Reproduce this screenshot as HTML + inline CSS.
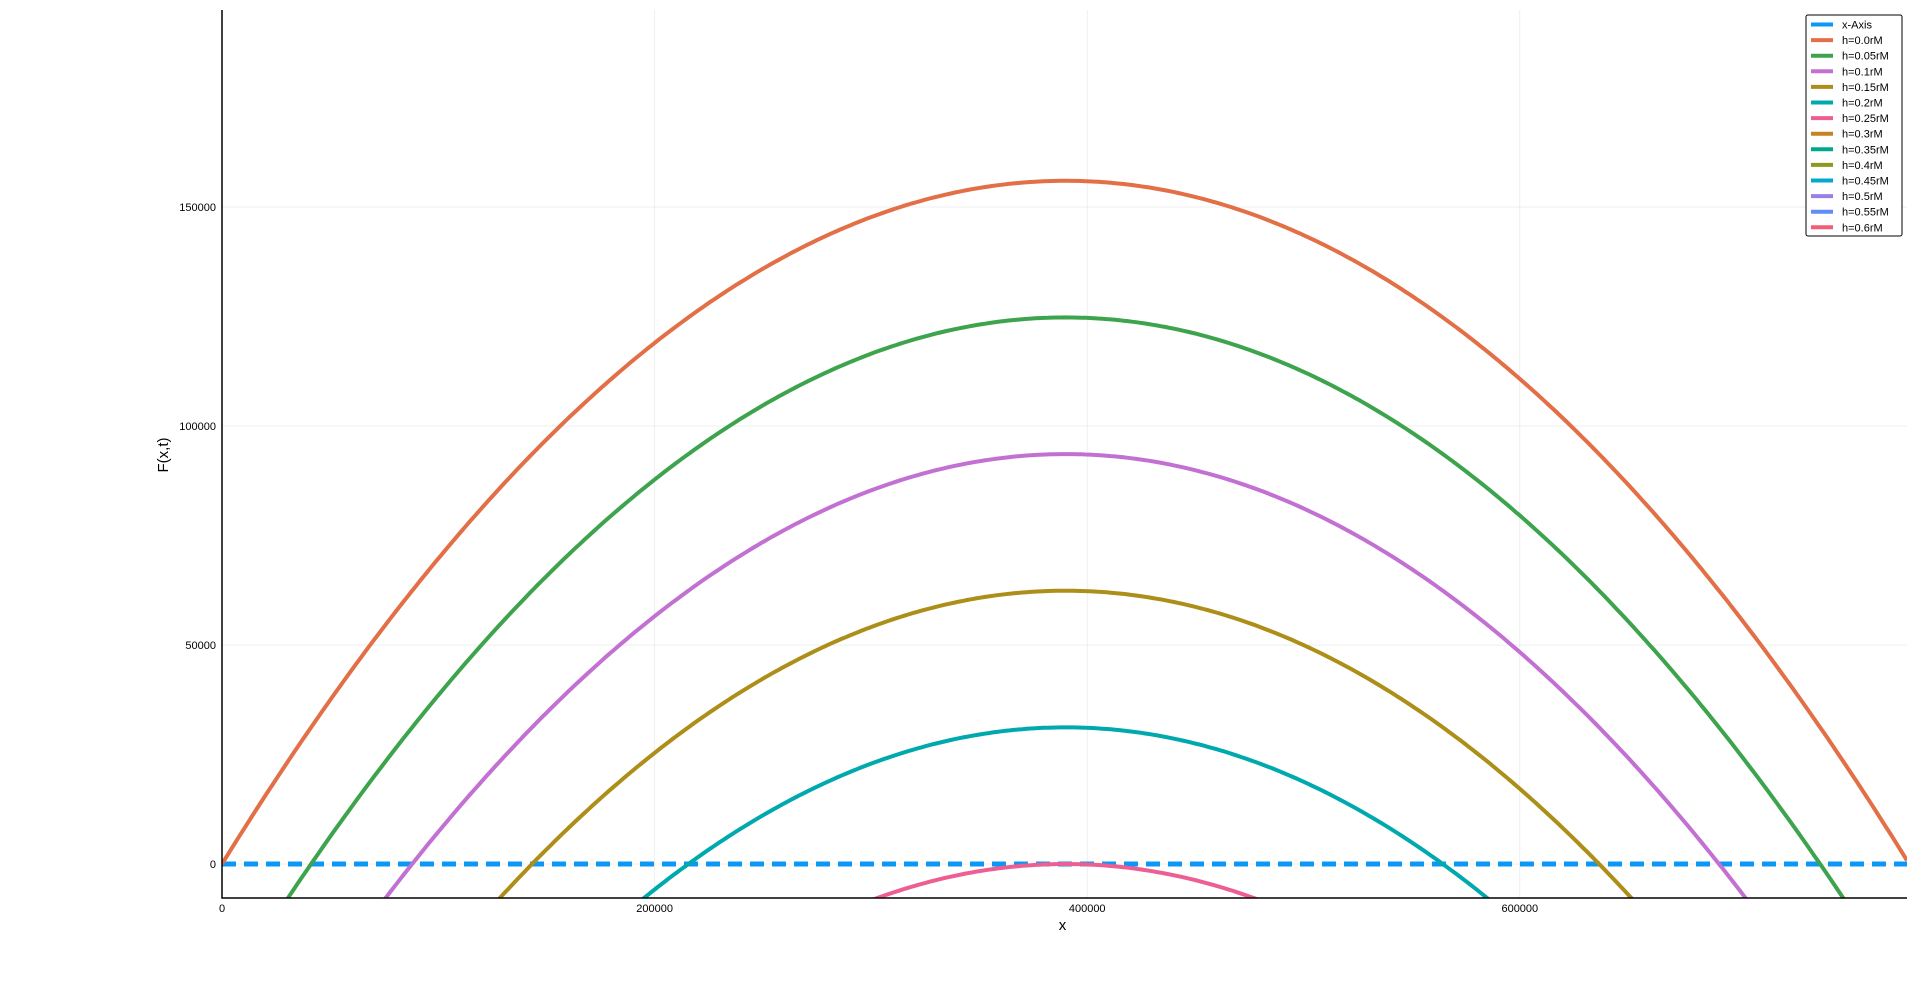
<!DOCTYPE html>
<html><head><meta charset="utf-8"><style>
html,body{margin:0;padding:0;background:#fff;width:1920px;height:990px;overflow:hidden;position:relative}
svg{display:block;position:absolute;left:0;top:0;font-family:"Liberation Sans","DejaVu Sans",sans-serif}
</style></head><body>
<svg id="chart" width="1920" height="990"></svg>
<script>
const seriesNames=["h=0.0rM","h=0.05rM","h=0.1rM","h=0.15rM","h=0.2rM","h=0.25rM","h=0.3rM","h=0.35rM","h=0.4rM","h=0.45rM","h=0.5rM","h=0.55rM","h=0.6rM"];
const seriesColors=["#e26f46","#3da44d","#c271d2","#ac8e18","#00a9ad","#ed5e93","#c68225","#00a98d","#8e971e","#00a9cd","#9b7fe8","#618df6","#f05f73"];
const peakValues=[156000,124800,93600,62400,31200,0,-31200,-62400,-93600,-124800,-156000,-187200,-218400];
const curvature=1.0256e-6;
const peakX=390000;
const xTicks=[0,200000,400000,600000];
const yTicks=[0,50000,100000,150000];
const xMin=0,xMax=779000,yMin=-7760,yMax=195000;
const L=222,R=1907,T=10,B=898;
const sx=v=>L+(v-xMin)/(xMax-xMin)*(R-L);
const sy=v=>B-(v-yMin)/(yMax-yMin)*(B-T);
const svg=document.getElementById('chart');
const NS='http://www.w3.org/2000/svg';
function mk(tag,attrs,parent){const e=document.createElementNS(NS,tag);for(const k in attrs)e.setAttribute(k,attrs[k]);(parent||svg).appendChild(e);return e;}
xTicks.forEach(t=>{const g=mk('line',{x1:sx(t),x2:sx(t),y1:T,y2:B,stroke:'#000','stroke-opacity':0.1,'stroke-width':0.6});


const tx=mk('text',{x:sx(t),y:B+14,'text-anchor':'middle','font-size':11,fill:'#000'});tx.textContent=t;

});
yTicks.forEach(t=>{const g=mk('line',{x1:L,x2:R,y1:sy(t),y2:sy(t),stroke:'#000','stroke-opacity':0.1,'stroke-width':0.6});


const tx=mk('text',{x:L-6,y:sy(t)+4,'text-anchor':'end','font-size':11,fill:'#000'});tx.textContent=t;

});
const defs=mk('defs',{});const cp=mk('clipPath',{id:'pc'},defs);mk('rect',{x:L,y:T,width:R-L,height:B-T},cp);
const g=mk('g',{'clip-path':'url(#pc)'});


const za=mk('line',{x1:sx(xMin),x2:sx(xMax),y1:sy(0),y2:sy(0),stroke:'#0a97f5','stroke-width':5,'stroke-dasharray':'14 8'},g);


peakValues.forEach((p,i)=>{let d='';for(let k=0;k<=400;k++){const x=xMin+(xMax-xMin)*k/400;const y=p-curvature*(x-peakX)*(x-peakX);d+=(k?'L':'M')+sx(x).toFixed(1)+' '+sy(y).toFixed(1);}
const pa=mk('path',{d:d,fill:'none',stroke:seriesColors[i],'stroke-width':4},g);

});
const ax=mk('path',{d:`M${L} ${T}V${B}H${R}`,fill:'none',stroke:'#000','stroke-width':1.5});


const xl=mk('text',{x:(L+R)/2-2,y:930,'text-anchor':'middle','font-size':15});xl.textContent='x';


const yl=mk('text',{x:168,y:455,'text-anchor':'middle','font-size':15,transform:'rotate(-90 168 455)'});yl.textContent='F(x,t)';


const lg=mk('g',{});


mk('rect',{x:1806,y:15,width:96,height:221,rx:2,fill:'#fff',stroke:'#000','stroke-width':1},lg);
const names=['x-Axis'].concat(seriesNames),cols=['#0a97f5'].concat(seriesColors);
names.forEach((n,i)=>{const y=24.5+i*15.6;
const ln=mk('line',{x1:1811,x2:1833,y1:y,y2:y,stroke:cols[i],'stroke-width':4},lg);


const t=mk('text',{x:1842,y:y+4,'font-size':11},lg);t.textContent=n;

});
</script>
</body></html>
